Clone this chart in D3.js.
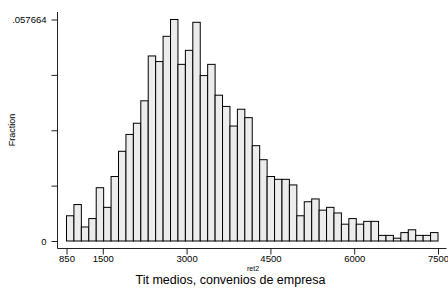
<!DOCTYPE html>
<html>
<head>
<meta charset="utf-8">
<script src="https://cdn.jsdelivr.net/npm/d3@7"></script>
<style>
  body { margin: 0; background: #fff; }
  svg { display: block; font-family: "Liberation Sans", Arial, sans-serif; }
  .bar { fill: #ececec; stroke: #000; stroke-width: 1; }
  .axis line { stroke: #222; }
  .axis text { fill: #000; font-size: 9.5px; }
</style>
</head>
<body>
<svg id="chart" width="448" height="288"></svg>
<script>
// observations per bin, 50 equal bins of ret2 from 850 to 7500
const counts = [
  9, 13, 5, 8, 19, 12, 23, 32, 38, 42,
  50, 66, 64, 73, 79, 63, 68, 78, 59, 63,
  52, 48, 41, 47, 44, 34, 29, 23, 22, 22,
  20, 9, 14, 15, 11, 12, 10, 6, 8, 6,
  7, 7, 2, 2, 1, 3, 4, 2, 2, 3
];
const binRange = [850, 7500];
const xTicks = [850, 1500, 3000, 4500, 6000, 7500];
const yTickLabels = ["0", ".057664"];

const total = d3.sum(counts);
const fractions = counts.map(c => c / total);
const yMax = d3.max(fractions);
const binW = (binRange[1] - binRange[0]) / counts.length;

const svg = d3.select("#chart");

const x = d3.scaleLinear().domain(binRange).range([66.5, 438]);
const y = d3.scaleLinear().domain([0, yMax]).range([241, 19.5]);

// bars
svg.append("g")
  .selectAll("rect.bar")
  .data(fractions)
  .enter()
  .append("rect")
  .classed("bar", true)
  .attr("x", function (d, i) {
    return x(binRange[0] + i * binW);
  })
  .attr("width", function (d, i) {
    return x(binRange[0] + (i + 1) * binW) - x(binRange[0] + i * binW);
  })
  .attr("y", function (d) {
    return y(d);
  })
  .attr("height", function (d) {
    return y(0) - y(d);
  });

// y axis: ticks at quarters of the max, only ends labelled
const yAxis = d3.axisLeft(y)
  .tickValues([0, yMax / 4, yMax / 2, yMax * 3 / 4, yMax])
  .tickSize(6)
  .tickPadding(5)
  .tickFormat(function (d, i) {
    if (i === 0) return yTickLabels[0];
    if (i === 4) return yTickLabels[1];
    return "";
  });

const gy = svg.append("g")
  .attr("class", "axis")
  .attr("transform", "translate(57.5,0)")
  .call(yAxis);
gy.select(".domain").remove();
gy.append("line")
  .attr("x1", 0).attr("x2", 0)
  .attr("y1", 12).attr("y2", 248.5);

// x axis
const xAxis = d3.axisBottom(x)
  .tickValues(xTicks)
  .tickSize(6)
  .tickPadding(1)
  .tickFormat(d3.format("d"));

const gx = svg.append("g")
  .attr("class", "axis")
  .attr("transform", "translate(0,248.5)")
  .call(xAxis);
gx.select(".domain").remove();
gx.append("line")
  .attr("x1", 57.5).attr("x2", 446.5)
  .attr("y1", 0).attr("y2", 0);

// labels
svg.append("text")
  .attr("transform", "translate(15,130) rotate(-90)")
  .attr("text-anchor", "middle")
  .attr("font-size", 9)
  .text("Fraction");

svg.append("text")
  .attr("x", 253)
  .attr("y", 270.5)
  .attr("text-anchor", "middle")
  .attr("font-size", 7)
  .text("ret2");

svg.append("text")
  .attr("x", 230.5)
  .attr("y", 284)
  .attr("text-anchor", "middle")
  .attr("font-size", 12.5)
  .text("Tit medios, convenios de empresa");
</script>
</body>
</html>
